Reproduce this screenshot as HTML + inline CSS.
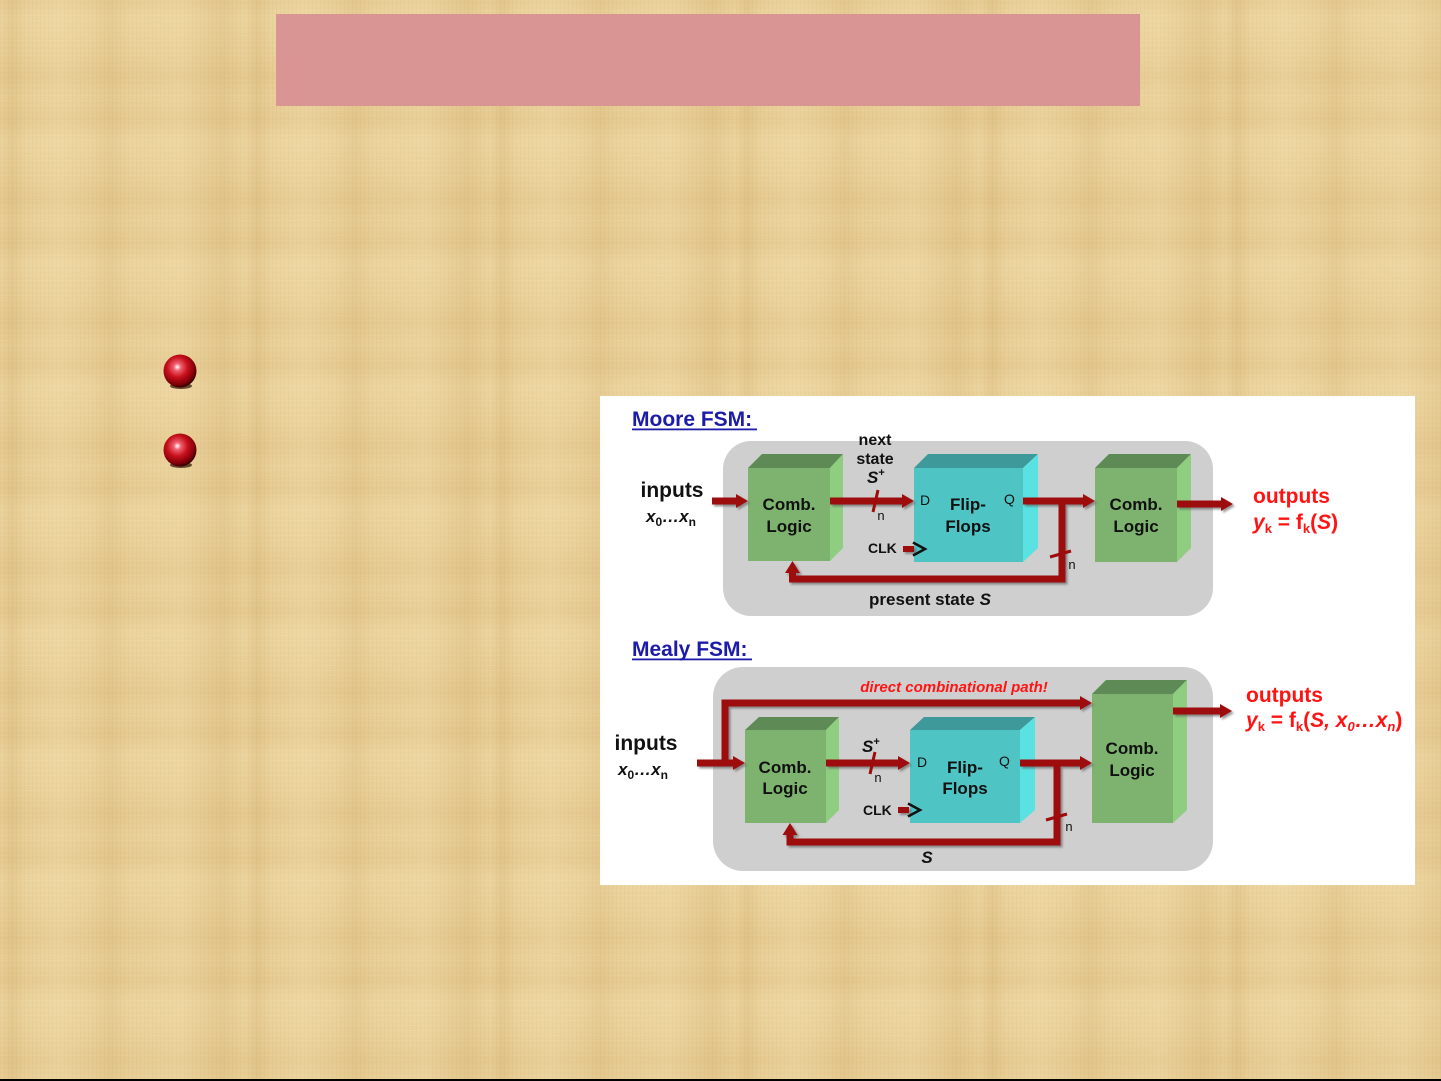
<!DOCTYPE html>
<html>
<head>
<meta charset="utf-8">
<style>
html,body{margin:0;padding:0;}
body{width:1441px;height:1081px;overflow:hidden;position:relative;
background-color:#e9cf97;
background-image:
 repeating-linear-gradient(90deg, rgba(190,150,80,0) 0px, rgba(190,150,80,0.16) 12px, rgba(190,150,80,0) 26px, rgba(255,240,200,0.15) 60px, rgba(190,150,80,0) 90px, rgba(190,150,80,0.12) 110px, rgba(190,150,80,0) 130px, rgba(255,240,200,0.12) 180px, rgba(190,150,80,0.14) 222px, rgba(190,150,80,0) 245px),
 repeating-linear-gradient(0deg, rgba(190,150,80,0) 0px, rgba(190,150,80,0.10) 20px, rgba(190,150,80,0) 45px, rgba(255,240,200,0.12) 80px, rgba(190,150,80,0.09) 100px, rgba(190,150,80,0) 123px),
 repeating-linear-gradient(90deg, rgba(160,120,60,0.06) 0px, rgba(160,120,60,0.06) 1px, rgba(0,0,0,0) 1px, rgba(0,0,0,0) 4px),
 repeating-linear-gradient(0deg, rgba(255,245,215,0.10) 0px, rgba(255,245,215,0.10) 1px, rgba(0,0,0,0) 1px, rgba(0,0,0,0) 5px);
font-family:"Liberation Sans", Arial, sans-serif;}
svg{position:absolute;left:0;top:0;}
</style>
</head>
<body>
<svg width="1441" height="1081" viewBox="0 0 1441 1081" xmlns="http://www.w3.org/2000/svg" font-family="Liberation Sans, Arial, sans-serif">
<defs>
 <radialGradient id="ball" cx="0.42" cy="0.38" r="0.62">
  <stop offset="0" stop-color="#ffffff"/>
  <stop offset="0.18" stop-color="#f06070"/>
  <stop offset="0.5" stop-color="#c8101c"/>
  <stop offset="0.85" stop-color="#800008"/>
  <stop offset="1" stop-color="#3a0000"/>
 </radialGradient>
 <filter id="sh" x="-10%" y="-10%" width="130%" height="130%">
  <feDropShadow dx="2" dy="2" stdDeviation="1" flood-color="#555" flood-opacity="0.6"/>
 </filter>
</defs>

<!-- title bar -->
<rect x="276" y="14" width="864" height="92" fill="#d99594"/>

<!-- bullets -->
<ellipse cx="181" cy="386" rx="11" ry="3" fill="#2a1000" opacity="0.7"/>
<circle cx="180" cy="371" r="16.5" fill="url(#ball)"/>
<ellipse cx="181" cy="465" rx="11" ry="3" fill="#2a1000" opacity="0.7"/>
<circle cx="180" cy="450" r="16.5" fill="url(#ball)"/>

<!-- bottom black line -->
<rect x="0" y="1079" width="1441" height="2" fill="#000"/>

<!-- white panel -->
<rect x="600" y="396" width="815" height="489" fill="#ffffff"/>

<!-- ================= MOORE ================= -->
<text x="632" y="426" font-size="21" font-weight="bold" fill="#1c1ca8">Moore FSM:</text>
<rect x="632" y="428.5" width="125" height="1.8" fill="#1c1ca8"/>

<rect x="723" y="441" width="490" height="175" rx="28" fill="#cfcfcf"/>

<!-- Comb1 -->
<polygon points="748,468 762,454 843,454 830,468" fill="#5e8a55"/>
<polygon points="830,468 843,454 843,548 830,561" fill="#8fcd80"/>
<rect x="748" y="468" width="82" height="93" fill="#7db36e"/>
<text x="789" y="510" font-size="17" font-weight="bold" fill="#111" text-anchor="middle">Comb.</text>
<text x="789" y="532" font-size="17" font-weight="bold" fill="#111" text-anchor="middle">Logic</text>

<!-- FF -->
<polygon points="914,468 928,454 1038,454 1023,468" fill="#3e9a9a"/>
<polygon points="1023,468 1038,454 1038,548 1023,562" fill="#5ae2e2"/>
<rect x="914" y="468" width="109" height="94" fill="#4ec4c4"/>
<text x="968" y="510" font-size="17" font-weight="bold" fill="#111" text-anchor="middle">Flip-</text>
<text x="968" y="532" font-size="17" font-weight="bold" fill="#111" text-anchor="middle">Flops</text>
<text x="920" y="505" font-size="14" fill="#111">D</text>
<text x="1004" y="504" font-size="14" fill="#111">Q</text>

<!-- Comb2 -->
<polygon points="1095,468 1109,454 1191,454 1177,468" fill="#5e8a55"/>
<polygon points="1177,468 1191,454 1191,548 1177,562" fill="#8fcd80"/>
<rect x="1095" y="468" width="82" height="94" fill="#7db36e"/>
<text x="1136" y="510" font-size="17" font-weight="bold" fill="#111" text-anchor="middle">Comb.</text>
<text x="1136" y="532" font-size="17" font-weight="bold" fill="#111" text-anchor="middle">Logic</text>

<!-- labels -->
<text x="672" y="497" font-size="21" font-weight="bold" fill="#111" text-anchor="middle">inputs</text>
<text x="646" y="522" font-size="17" font-weight="bold" font-style="italic" fill="#111">x<tspan font-size="12" font-style="normal" dy="4">0</tspan><tspan dy="-4">…x</tspan><tspan font-size="12" font-style="normal" dy="4">n</tspan></text>
<text x="875" y="445" font-size="16" font-weight="bold" fill="#111" text-anchor="middle">next</text>
<text x="875" y="464" font-size="16" font-weight="bold" fill="#111" text-anchor="middle">state</text>
<text x="867" y="483" font-size="17" font-weight="bold" font-style="italic" fill="#111">S<tspan font-size="11" font-style="normal" dy="-7">+</tspan></text>
<text x="881" y="520" font-size="13" fill="#111" text-anchor="middle">n</text>
<text x="868" y="553" font-size="14" font-weight="bold" fill="#111">CLK</text>
<text x="1072" y="569" font-size="13" fill="#111" text-anchor="middle">n</text>
<text x="930" y="605" font-size="17" font-weight="bold" fill="#111" text-anchor="middle">present state <tspan font-style="italic">S</tspan></text>
<text x="1253" y="503" font-size="21" font-weight="bold" fill="#ff1414">outputs</text>
<text x="1253" y="529" font-size="21" font-weight="bold" fill="#ff1414"><tspan font-style="italic">y</tspan><tspan font-size="13" dy="4">k</tspan><tspan dy="-4"> = f</tspan><tspan font-size="13" dy="4">k</tspan><tspan dy="-4">(</tspan><tspan font-style="italic">S</tspan>)</text>

<!-- Moore arrows -->
<g filter="url(#sh)" fill="#9e0b0b" stroke="none">
 <rect x="712" y="497.5" width="26" height="7"/>
 <polygon points="736,494 748,501 736,508"/>
 <rect x="830" y="497.5" width="74" height="7"/>
 <polygon points="902,494 914,501 902,508"/>
 <rect x="1023" y="497.5" width="62" height="7"/>
 <polygon points="1083,494 1095,501 1083,508"/>
 <rect x="1058.5" y="497.5" width="7" height="85"/>
 <rect x="789" y="575.5" width="276.5" height="7"/>
 <rect x="789" y="570" width="7" height="12.5"/>
 <polygon points="785,573 792.5,561 800,573"/>
 <rect x="1177" y="500.5" width="46" height="7"/>
 <polygon points="1221,497 1233,504 1221,511"/>
 <rect x="903" y="546" width="11" height="6"/>
</g>
<line x1="873" y1="512" x2="878" y2="490" stroke="#9e0b0b" stroke-width="3"/>
<line x1="1050" y1="557" x2="1071" y2="551" stroke="#9e0b0b" stroke-width="3"/>
<polyline points="913,542.5 925,549 913,555.5" fill="none" stroke="#111" stroke-width="2.5"/>

<!-- ================= MEALY ================= -->
<text x="632" y="656" font-size="21" font-weight="bold" fill="#1c1ca8">Mealy FSM:</text>
<rect x="632" y="658.5" width="120" height="1.8" fill="#1c1ca8"/>

<rect x="713" y="667" width="500" height="204" rx="30" fill="#cfcfcf"/>

<!-- Comb1 -->
<polygon points="745,730 759,717 839,717 826,730" fill="#5e8a55"/>
<polygon points="826,730 839,717 839,810 826,823" fill="#8fcd80"/>
<rect x="745" y="730" width="81" height="93" fill="#7db36e"/>
<text x="785" y="773" font-size="17" font-weight="bold" fill="#111" text-anchor="middle">Comb.</text>
<text x="785" y="794" font-size="17" font-weight="bold" fill="#111" text-anchor="middle">Logic</text>

<!-- FF -->
<polygon points="910,730 924,717 1035,717 1020,730" fill="#3e9a9a"/>
<polygon points="1020,730 1035,717 1035,810 1020,823" fill="#5ae2e2"/>
<rect x="910" y="730" width="110" height="93" fill="#4ec4c4"/>
<text x="965" y="773" font-size="17" font-weight="bold" fill="#111" text-anchor="middle">Flip-</text>
<text x="965" y="794" font-size="17" font-weight="bold" fill="#111" text-anchor="middle">Flops</text>
<text x="917" y="767" font-size="14" fill="#111">D</text>
<text x="999" y="766" font-size="14" fill="#111">Q</text>

<!-- Comb2 tall -->
<polygon points="1092,694 1106,680 1187,680 1173,694" fill="#5e8a55"/>
<polygon points="1173,694 1187,680 1187,810 1173,823" fill="#8fcd80"/>
<rect x="1092" y="694" width="81" height="129" fill="#7db36e"/>
<text x="1132" y="754" font-size="17" font-weight="bold" fill="#111" text-anchor="middle">Comb.</text>
<text x="1132" y="776" font-size="17" font-weight="bold" fill="#111" text-anchor="middle">Logic</text>

<!-- labels -->
<text x="646" y="750" font-size="21" font-weight="bold" fill="#111" text-anchor="middle">inputs</text>
<text x="618" y="775" font-size="17" font-weight="bold" font-style="italic" fill="#111">x<tspan font-size="12" font-style="normal" dy="4">0</tspan><tspan dy="-4">…x</tspan><tspan font-size="12" font-style="normal" dy="4">n</tspan></text>
<text x="954" y="692" font-size="15" font-weight="bold" font-style="italic" fill="#ff1414" text-anchor="middle">direct combinational path!</text>
<text x="862" y="752" font-size="17" font-weight="bold" font-style="italic" fill="#111">S<tspan font-size="11" font-style="normal" dy="-7">+</tspan></text>
<text x="878" y="782" font-size="13" fill="#111" text-anchor="middle">n</text>
<text x="863" y="815" font-size="14" font-weight="bold" fill="#111">CLK</text>
<text x="1069" y="831" font-size="13" fill="#111" text-anchor="middle">n</text>
<text x="927" y="863" font-size="17" font-weight="bold" font-style="italic" fill="#111" text-anchor="middle">S</text>
<text x="1246" y="702" font-size="21" font-weight="bold" fill="#ff1414">outputs</text>
<text x="1246" y="727" font-size="21" font-weight="bold" fill="#ff1414"><tspan font-style="italic">y</tspan><tspan font-size="13" dy="4">k</tspan><tspan dy="-4"> = f</tspan><tspan font-size="13" dy="4">k</tspan><tspan dy="-4">(</tspan><tspan font-style="italic">S, x</tspan><tspan font-size="13" font-style="italic" dy="4">0</tspan><tspan font-style="italic" dy="-4">…x</tspan><tspan font-size="13" font-style="italic" dy="4">n</tspan><tspan dy="-4">)</tspan></text>

<!-- Mealy arrows -->
<g filter="url(#sh)" fill="#9e0b0b" stroke="none">
 <rect x="697" y="759.5" width="38" height="7"/>
 <polygon points="733,756 745,763 733,770"/>
 <rect x="721.5" y="699.5" width="7" height="67"/>
 <rect x="721.5" y="699.5" width="361" height="7"/>
 <polygon points="1080,696 1092,703 1080,710"/>
 <rect x="826" y="759.5" width="74" height="7"/>
 <polygon points="898,756 910,763 898,770"/>
 <rect x="1020" y="759.5" width="62" height="7"/>
 <polygon points="1080,756 1092,763 1080,770"/>
 <rect x="1053.5" y="759.5" width="7" height="86"/>
 <rect x="786.5" y="838.5" width="274" height="7"/>
 <rect x="786.5" y="832" width="7" height="13.5"/>
 <polygon points="782.5,835 790,823 797.5,835"/>
 <rect x="1173" y="707.5" width="47" height="7"/>
 <polygon points="1220,704 1232,711 1220,718"/>
 <rect x="898" y="807" width="11" height="6"/>
</g>
<line x1="870" y1="774" x2="875" y2="752" stroke="#9e0b0b" stroke-width="3"/>
<line x1="1046" y1="820" x2="1067" y2="814" stroke="#9e0b0b" stroke-width="3"/>
<polyline points="908,803.5 920,810 908,816.5" fill="none" stroke="#111" stroke-width="2.5"/>
</svg>
</body>
</html>
